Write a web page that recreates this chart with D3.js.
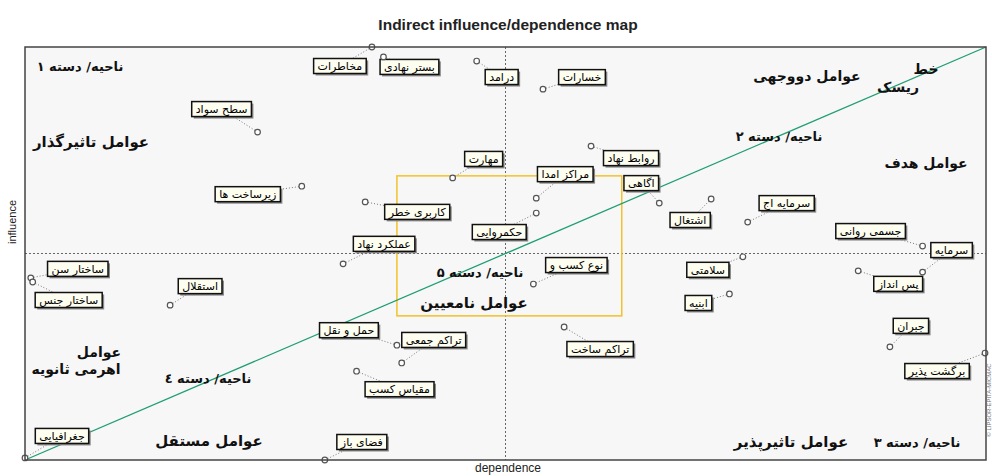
<!DOCTYPE html>
<html>
<head>
<meta charset="utf-8">
<script src="https://cdnjs.cloudflare.com/ajax/libs/d3/7.8.5/d3.min.js"></script>
<style>
  body { margin: 0; background: #ffffff; }
  svg text { font-family: "DejaVu Sans", sans-serif; }
</style>
</head>
<body>
<div id="vis-container"></div>
<script>
// Data (0-100 on both axes)
var variables = ['جغرافیایی', 'فضای باز', 'ساختار سن', 'ساختار جنس', 'استقلال', 'زیرساخت ها',
  'سطح سواد', 'مخاطرات', 'بستر نهادی', 'درامد', 'خسارات', 'روابط نهاد', 'مهارت', 'مراکز امدا',
  'حکمروایی', 'اگاهی', 'اشتغال', 'سرمایه اج', 'جسمی روانی', 'سرمایه', 'پس انداز', 'سلامتی',
  'ابنیه', 'جبران', 'برگشت پذیر', 'تراکم ساخت', 'حمل و نقل', 'تراکم جمعی', 'مقیاس کسب',
  'نوع کسب و', 'کاربری خطر', 'عملکرد نهاد']
var dependence = [0, 31.2, 0.6, 0.8, 15.1, 28.8, 24.2, 36.1, 37.3, 47.0, 53.9, 58.9, 44.5, 53.2,
  53.2, 66.0, 71.4, 75.2, 93.4, 93.4, 86.7, 74.7, 73.3, 90.0, 99.9, 56.1, 38.7, 39.2, 34.5,
  52.9, 35.4, 33.1]
var influence = [0.5, 0, 44.1, 43.1, 37.5, 66.3, 79.4, 100, 97.6, 96.6, 89.8, 76.0, 68.3, 63.4,
  59.8, 62.2, 63.2, 57.6, 51.8, 45.5, 45.8, 49.2, 40.2, 27.4, 25.9, 32.2, 27.8, 23.5, 21.5,
  42.6, 62.5, 47.5]

// label placement (pixel offset of the label box centre from its point)
var labelDx = [37, 37, 47, 36, 30, -54, -36, -32, 26, 25, 39, 40, 31, 29, -37, -18, -21, 39,
  -52, 29, 40, -35, -31, 21, -48, 36, -48, 32, 43, 43, 52, 41]
var labelDy = [-22, -18, -9, 18, -19, 8, -23, 19, 10, 16, -12, 12, -19, -24, 19, -20, 21, -19,
  -15, -22, 13, 13, 9, -21, 18, 22, -15, -23, 18, -19, 10, -20]

// central zone of undetermined factors [dep0, dep1, inf0, inf1]
var zoneBox = [38.7, 62.1, 34.9, 68.8]

// quadrant notes
var notes = [
  { t: 'ناحیه/ دسته ۱', x: 80, y: 71, s: 13 },
  { t: 'عوامل تاثیرگذار', x: 91, y: 147, s: 15 },
  { t: 'عوامل دووجهی', x: 807, y: 81, s: 14 },
  { t: 'خط', x: 926, y: 74, s: 14 },
  { t: 'ریسک', x: 898, y: 92, s: 14 },
  { t: 'ناحیه/ دسته ۲', x: 779, y: 141, s: 13 },
  { t: 'عوامل هدف', x: 926, y: 168, s: 14 },
  { t: 'ناحیه/ دسته ۵', x: 480, y: 277, s: 13 },
  { t: 'عوامل نامعیین', x: 474, y: 308, s: 15 },
  { t: 'عوامل', x: 99, y: 357, s: 14 },
  { t: 'اهرمی ثانویه', x: 76, y: 374, s: 14 },
  { t: 'ناحیه/ دسته ٤', x: 208, y: 383, s: 13 },
  { t: 'عوامل مستقل', x: 209, y: 446, s: 15 },
  { t: 'عوامل تاثیرپذیر', x: 791, y: 447, s: 15 },
  { t: 'ناحیه/ دسته ۳', x: 917, y: 447, s: 13 }
]

var data = variables.map(function (d, i) {
  return { name: d, dep: dependence[i], inf: influence[i], dx: labelDx[i], dy: labelDy[i] }
})

var W = 992, H = 476
var plot = { left: 25, right: 986, top: 47, bottom: 460 }

var xScale = d3.scaleLinear().domain([0, 100]).range([plot.left, plot.right])
var yScale = d3.scaleLinear().domain([0, 100]).range([plot.bottom, plot.top])

var svg = d3.select('#vis-container').append('svg')
  .attr('width', W)
  .attr('height', H)

// plot background
svg.append('rect')
  .attr('x', plot.left).attr('y', plot.top)
  .attr('width', plot.right - plot.left).attr('height', plot.bottom - plot.top)
  .attr('fill', '#f7f7f7')

// title
svg.append('text')
  .attr('x', 508).attr('y', 30)
  .attr('text-anchor', 'middle')
  .style('font-family', '"Liberation Sans", Arial, sans-serif')
  .style('font-weight', 'bold')
  .style('font-size', '15.5px')
  .attr('fill', '#222')
  .text('Indirect influence/dependence map')

// mid lines
svg.append('line')
  .attr('x1', xScale(50)).attr('x2', xScale(50))
  .attr('y1', plot.top).attr('y2', plot.bottom)
  .attr('stroke', '#666').attr('stroke-width', 1).attr('stroke-dasharray', '2,2')
svg.append('line')
  .attr('x1', plot.left).attr('x2', plot.right)
  .attr('y1', yScale(50)).attr('y2', yScale(50))
  .attr('stroke', '#666').attr('stroke-width', 1).attr('stroke-dasharray', '2,2')

// yellow zone
svg.append('rect')
  .attr('x', xScale(zoneBox[0]))
  .attr('y', yScale(zoneBox[3]))
  .attr('width', xScale(zoneBox[1]) - xScale(zoneBox[0]))
  .attr('height', yScale(zoneBox[2]) - yScale(zoneBox[3]))
  .attr('fill', 'none')
  .attr('stroke', '#f2c22a')
  .attr('stroke-width', 1.5)

// risk line
svg.append('line')
  .attr('x1', xScale(0)).attr('y1', yScale(0))
  .attr('x2', xScale(100)).attr('y2', yScale(100))
  .attr('stroke', '#1f9e74').attr('stroke-width', 1.3)

// quadrant notes
svg.selectAll('text.note')
  .data(notes)
  .enter()
  .append('text')
  .attr('class', 'note')
  .attr('x', function (d) { return d.x })
  .attr('y', function (d) { return d.y })
  .attr('text-anchor', 'middle')
  .attr('direction', 'rtl')
  .style('font-weight', 'bold')
  .style('font-size', function (d) { return d.s + 'px' })
  .attr('fill', '#111')
  .text(function (d) { return d.t })

// connectors
svg.selectAll('line.link')
  .data(data)
  .enter()
  .append('line')
  .attr('class', 'link')
  .attr('x1', function (d) { return xScale(d.dep) })
  .attr('y1', function (d) { return yScale(d.inf) })
  .attr('x2', function (d) { return xScale(d.dep) + d.dx })
  .attr('y2', function (d) { return yScale(d.inf) + d.dy })
  .attr('stroke', '#777')
  .attr('stroke-width', 1)
  .attr('stroke-dasharray', '1,2')

// label boxes
var labels = svg.selectAll('g.label')
  .data(data)
  .enter()
  .append('g')
  .attr('class', 'label')
  .attr('transform', function (d) {
    return 'translate(' + (xScale(d.dep) + d.dx) + ',' + (yScale(d.inf) + d.dy) + ')'
  })

labels.append('text')
  .attr('text-anchor', 'middle')
  .attr('dy', '0.35em')
  .attr('direction', 'rtl')
  .style('font-size', '11px')
  .attr('fill', '#000')
  .text(function (d) { return d.name })

labels.each(function (d) {
  var g = d3.select(this)
  var tw = g.select('text').node().getComputedTextLength()
  var bw = tw + 8, bh = 15
  g.insert('rect', 'text')
    .attr('x', -bw / 2 + 2).attr('y', -bh / 2 + 2)
    .attr('width', bw).attr('height', bh)
    .attr('fill', '#888')
  g.insert('rect', 'text')
    .attr('x', -bw / 2).attr('y', -bh / 2)
    .attr('width', bw).attr('height', bh)
    .attr('fill', '#fdfdf0')
    .attr('stroke', '#111')
    .attr('stroke-width', 1.5)
})

// points
svg.selectAll('circle')
  .data(data)
  .enter()
  .append('circle')
  .attr('cx', function (d) { return xScale(d.dep) })
  .attr('cy', function (d) { return yScale(d.inf) })
  .attr('r', 2.8)
  .attr('fill', '#fff')
  .attr('stroke', '#555')
  .attr('stroke-width', 1.2)

// frame
svg.append('rect')
  .attr('x', plot.left).attr('y', plot.top)
  .attr('width', plot.right - plot.left).attr('height', plot.bottom - plot.top)
  .attr('fill', 'none')
  .attr('stroke', '#444')
  .attr('stroke-width', 1.5)

// axis titles
svg.append('text')
  .attr('transform', 'translate(16,222) rotate(-90)')
  .attr('text-anchor', 'middle')
  .style('font-family', '"Liberation Sans", Arial, sans-serif')
  .style('font-size', '11px')
  .attr('fill', '#222')
  .text('influence')

svg.append('text')
  .attr('x', 508).attr('y', 472)
  .attr('text-anchor', 'middle')
  .style('font-family', '"Liberation Sans", Arial, sans-serif')
  .style('font-size', '12px')
  .attr('fill', '#222')
  .text('dependence')

// small vertical credit on the right edge
svg.append('text')
  .attr('transform', 'translate(991,400) rotate(-90)')
  .attr('text-anchor', 'middle')
  .style('font-family', '"Liberation Sans", Arial, sans-serif')
  .style('font-size', '6px')
  .attr('fill', '#777')
  .text('© LIPSOR-EPITA-MICMAC')
</script>
</body>
</html>
